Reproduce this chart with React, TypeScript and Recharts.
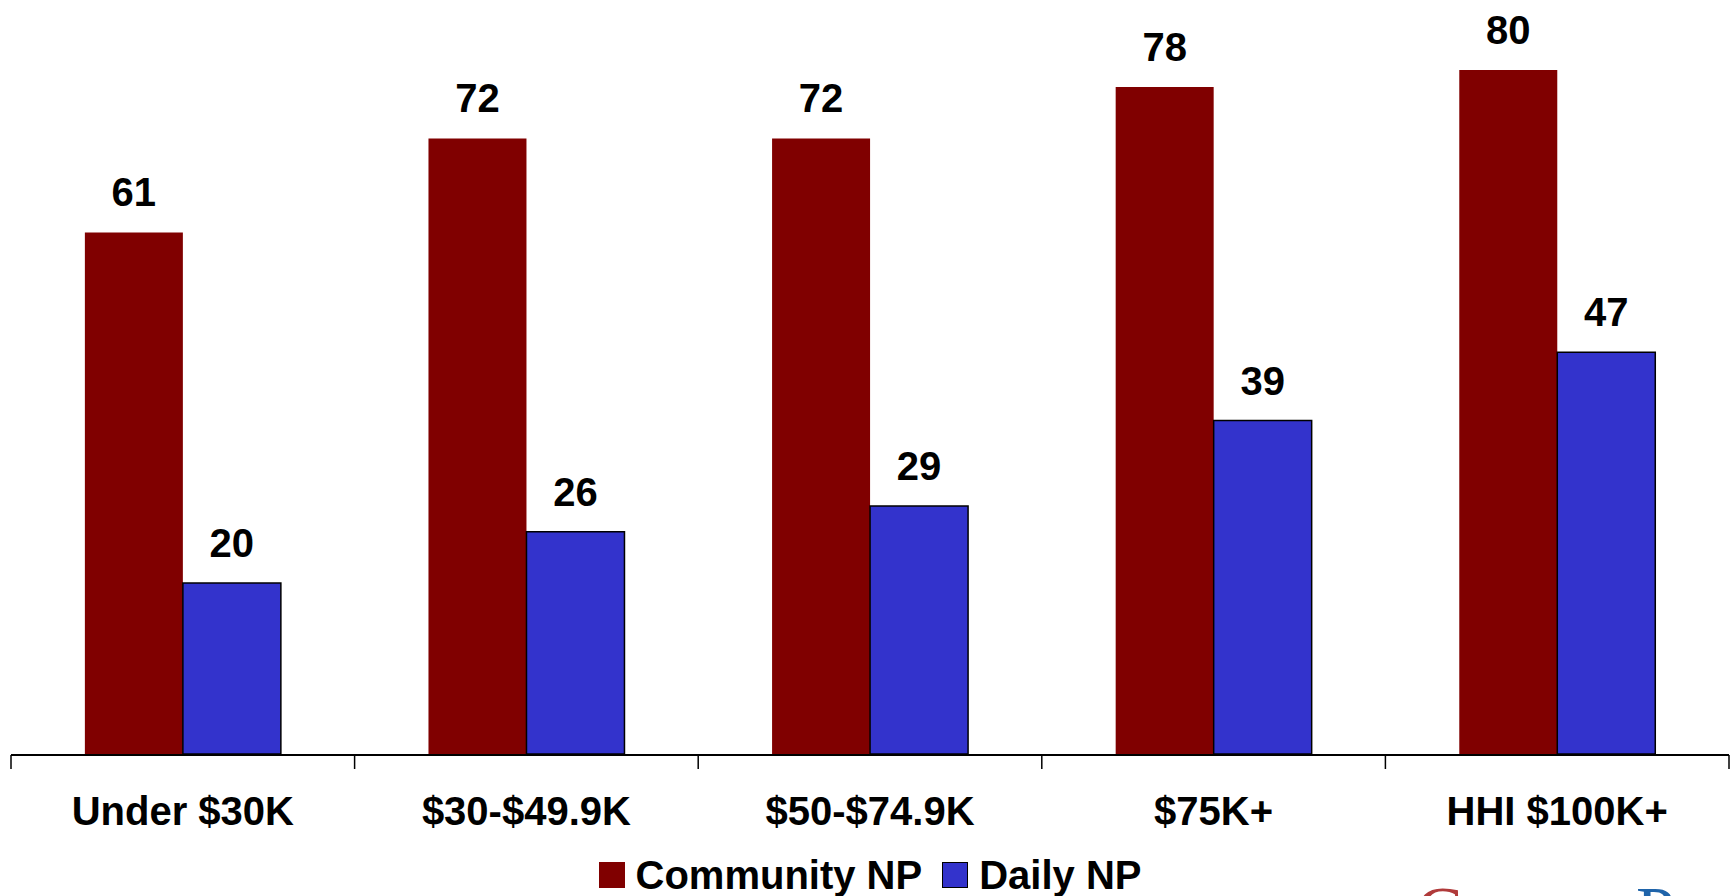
import { BarChart, Bar, XAxis, YAxis, LabelList, Legend } from "recharts";

const FONT = '"Liberation Sans", Arial, Helvetica, sans-serif';

const INCOME_GROUPS = ["Under $30K", "$30-$49.9K", "$50-$74.9K", "$75K+", "HHI $100K+"];
const COMMUNITY_NP = [61, 72, 72, 78, 80];
const DAILY_NP = [20, 26, 29, 39, 47];
const EDGE_TICKS = [0, 1, 2, 3, 4, 5];

const RED = "#800000";
const BLUE = "#3333cc";

const chartData = INCOME_GROUPS.map((group, i) => ({
  group,
  edge: i + 0.5,
  community: COMMUNITY_NP[i],
  daily: DAILY_NP[i],
}));

const LegendContent = ({ payload }: any) => (
  <div style={{ display: "flex", justifyContent: "center", alignItems: "center", height: 46 }}>
    {(payload || []).map((entry: any, i: number) => (
      <div key={entry.value} style={{ display: "flex", alignItems: "center", marginLeft: i ? 20 : 0 }}>
        <span
          style={{
            width: 26,
            height: 26,
            background: entry.color,
            boxSizing: "border-box",
            border: entry.dataKey === "daily" ? "1.5px solid #000" : "none",
            marginRight: 11,
          }}
        />
        <span style={{ fontSize: 40, fontWeight: 700, color: "#000", lineHeight: "46px" }}>{entry.value}</span>
      </div>
    ))}
  </div>
);

export default function App() {
  return (
    <div
      style={{
        position: "absolute",
        left: 0,
        top: 0,
        width: 1732,
        height: 896,
        overflow: "hidden",
        background: "#fff",
        fontFamily: FONT,
      }}
    >
      <BarChart
        width={1732}
        height={896}
        data={chartData}
        margin={{ top: 70, right: 3, left: 11, bottom: 41 }}
        barCategoryGap="21.5%"
        barGap={0}
        style={{ fontFamily: FONT }}
      >
        {/* category labels sit right under the plot; the edge axis below it draws the line and boundary ticks */}
        <XAxis
          dataKey="group"
          interval={0}
          height={1}
          axisLine={false}
          tickLine={false}
          tickSize={0}
          tickMargin={43}
          tick={{ fill: "#000", fontSize: 40, fontWeight: 700 }}
        />
        <XAxis
          xAxisId="edge"
          dataKey="edge"
          type="number"
          domain={[0, INCOME_GROUPS.length]}
          ticks={EDGE_TICKS}
          interval={0}
          allowDataOverflow
          height={100}
          tickSize={14}
          tickFormatter={() => ""}
          axisLine={{ stroke: "#000", strokeWidth: 2 }}
          tickLine={{ stroke: "#000", strokeWidth: 1.5 }}
        />
        <YAxis hide domain={[0, 80]} />
        <Legend
          layout="horizontal"
          verticalAlign="middle"
          align="center"
          wrapperStyle={{ top: 852 }}
          content={<LegendContent />}
        />
        <Bar dataKey="community" name="Community NP" fill={RED} isAnimationActive={false}>
          <LabelList dataKey="community" position="top" offset={26} fill="#000" fontSize={40} fontWeight={700} />
        </Bar>
        <Bar dataKey="daily" name="Daily NP" fill={BLUE} stroke="#000" strokeWidth={1.5} isAnimationActive={false}>
          <LabelList dataKey="daily" position="top" offset={26} fill="#000" fontSize={40} fontWeight={700} />
        </Bar>
      </BarChart>
      <span
        style={{
          position: "absolute",
          left: 1416,
          top: 877,
          fontSize: 70,
          lineHeight: 1,
          fontFamily: '"Liberation Serif", serif',
          color: "#b03a3a",
        }}
      >
        C
      </span>
      <span
        style={{
          position: "absolute",
          left: 1636,
          top: 877,
          fontSize: 70,
          lineHeight: 1,
          fontFamily: '"Liberation Serif", serif',
          color: "#1f64aa",
        }}
      >
        P
      </span>
    </div>
  );
}
